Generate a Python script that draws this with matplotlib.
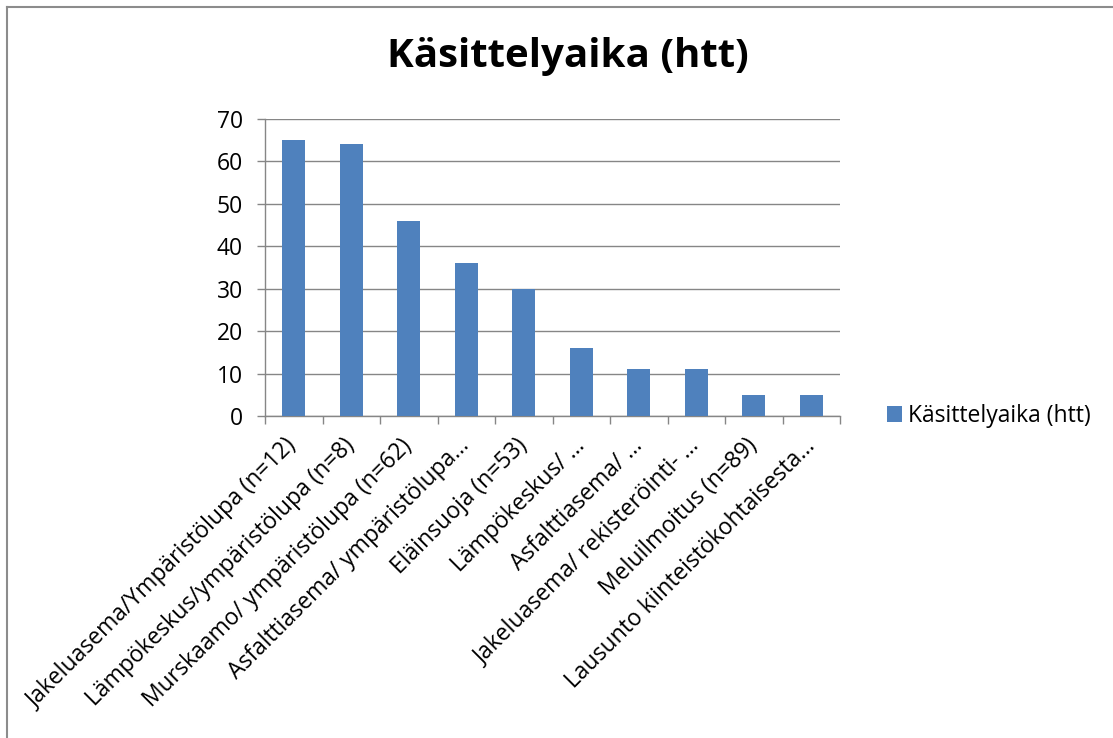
import matplotlib
matplotlib.use("Agg")
import matplotlib.pyplot as plt
from matplotlib.lines import Line2D

categories = [
    "Jakeluasema/Ympäristölupa (n=12)",
    "Lämpökeskus/ympäristölupa (n=8)",
    "Murskaamo/ ympäristölupa (n=62)",
    "Asfalttiasema/ ympäristölupa…",
    "Eläinsuoja (n=53)",
    "Lämpökeskus/ …",
    "Asfalttiasema/ …",
    "Jakeluasema/ rekisteröinti- …",
    "Meluilmoitus (n=89)",
    "Lausunto kiinteistökohtaisesta…",
]
values = [65, 64, 46, 36, 30, 16, 11, 11, 5, 5]
series_name = "Käsittelyaika (htt)"
title = "Käsittelyaika (htt)"
yticks = [0, 10, 20, 30, 40, 50, 60, 70]

plt.rcParams['font.family'] = ['Open Sans', 'DejaVu Sans']

W, H = 1113, 738
fig = plt.figure(figsize=(W / 100, H / 100), dpi=100)
ax = fig.add_axes([265 / W, 1 - 416 / H, (840 - 265) / W, (416 - 119) / H])

bar_color = "#4F81BD"
grid_color = "#868686"

x = list(range(len(categories)))
ax.bar(x, values, width=0.4, color=bar_color, zorder=3, label=series_name)

ax.set_xlim(-0.5, len(categories) - 0.5)
ax.set_ylim(0, 70)
ax.set_yticks(yticks)
ax.set_yticklabels([str(v) for v in yticks], fontsize=16.5)
ax.yaxis.grid(True, color=grid_color, lw=1.0, zorder=0)
ax.set_axisbelow(True)

# x ticks at category boundaries, labels at centers
ax.set_xticks([i - 0.5 for i in range(len(categories) + 1)])
ax.set_xticklabels([])
ax.set_xticks(x, minor=True)
ax.set_xticklabels(categories, minor=True, rotation=45, ha='right', va='center',
                   rotation_mode='anchor', fontsize=16.5)
ax.tick_params(axis='x', which='minor', length=0, pad=19)
ax.tick_params(axis='x', which='major', length=6, color=grid_color, width=1.0)
ax.tick_params(axis='y', length=6, color=grid_color, width=1.0, pad=10)

for s in ['top', 'right']:
    ax.spines[s].set_visible(False)
for s in ['left', 'bottom']:
    ax.spines[s].set_color(grid_color)
    ax.spines[s].set_linewidth(1.0)

fig.text(568 / W, 1 - 57 / H, title, ha='center', va='center',
         fontsize=29, fontweight='bold')

leg = ax.legend(loc='center left', bbox_to_anchor=(866 / W, 1 - 416 / H),
                bbox_transform=fig.transFigure, frameon=False, fontsize=16.5,
                handlelength=0.65, handleheight=0.65, handletextpad=0.3)

# figure border (top and left visible)
fig.add_artist(Line2D([7 / W, 1], [1 - 7 / H, 1 - 7 / H], transform=fig.transFigure,
                      color="#8c8c8c", lw=1.5))
fig.add_artist(Line2D([7 / W, 7 / W], [0, 1 - 7 / H], transform=fig.transFigure,
                      color="#8c8c8c", lw=1.5))

fig.savefig("out.png", dpi=100)
